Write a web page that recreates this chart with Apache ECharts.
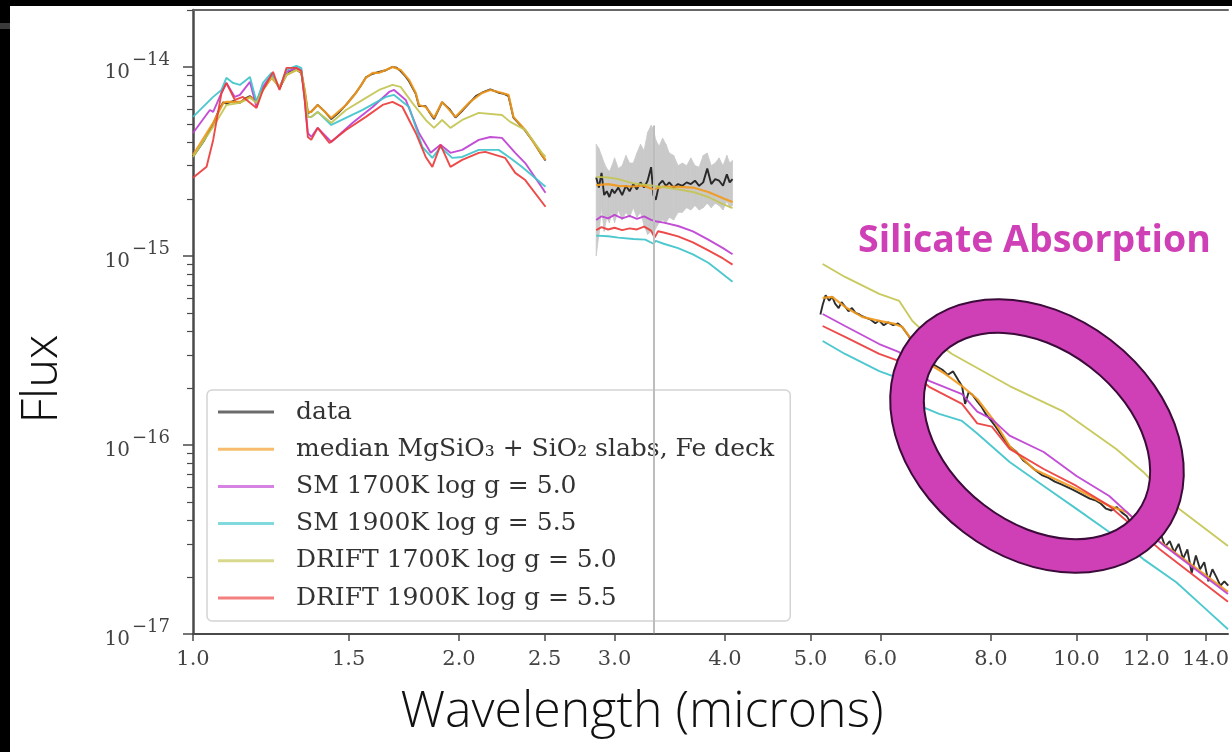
<!DOCTYPE html>
<html><head><meta charset="utf-8">
<script src="https://cdn.jsdelivr.net/npm/echarts@6/dist/echarts.min.js"></script>
<style>html,body{margin:0;padding:0;background:#fff}#c{width:1232px;height:752px}</style>
</head><body><div id="c"></div>
<script>
// flux values below are in units of 1e-15
const FLUX_UNIT = 1e-15;

const xTickValues = [1.0, 1.5, 2.0, 2.5, 3.0, 4.0, 5.0, 6.0, 8.0, 10.0, 12.0, 14.0];
const yMajorValues = [1e-17, 1e-16, 1e-15, 1e-14];
const yMinorMantissas = [2, 3, 4, 5, 6, 7, 8, 9];
const yMinorDecades = [1e-17, 1e-16, 1e-15, 1e-14];

const seriesNames = ['data', 'median MgSiO\u2083 + SiO\u2082 slabs, Fe deck', 'SM 1700K log g = 5.0',
  'SM 1900K log g = 5.5', 'DRIFT 1700K log g = 5.0', 'DRIFT 1900K log g = 5.5'];

// ---- observed spectrum ----
const dataNIR = [[1.0,3.35],[1.03,4.1],[1.054,5.0],[1.07,5.9],[1.082,6.5],[1.091,6.4],[1.11,6.6],[1.13,6.45],[1.145,6.8],[1.16,7.0],[1.18,6.6],[1.20,7.6],[1.227,8.8],[1.24,8.4],[1.253,7.7],[1.276,9.1],[1.29,9.5],[1.309,9.7],[1.326,9.3],[1.338,7.4],[1.349,5.7],[1.361,5.8],[1.384,6.3],[1.41,5.8],[1.434,5.3],[1.46,5.7],[1.49,6.3],[1.51,6.8],[1.529,7.3],[1.55,8.0],[1.569,8.8],[1.597,9.2],[1.624,9.4],[1.653,9.6],[1.682,10.0],[1.70,9.9],[1.718,9.5],[1.74,8.9],[1.756,8.4],[1.787,7.2],[1.802,6.2],[1.834,6.2],[1.85,5.8],[1.874,5.3],[1.914,6.5],[1.95,6.0],[1.982,5.4],[2.02,5.9],[2.052,6.4],[2.09,7.0],[2.124,7.3],[2.17,7.6],[2.218,7.3],[2.25,7.2],[2.276,7.0],[2.305,5.4],[2.34,5.0],[2.377,4.6],[2.43,4.0],[2.483,3.4],[2.506,3.2]];
const dataL = [[2.86,2.6],[2.88,2.3],[2.90,2.75],[2.92,2.1],[2.94,2.2],[2.96,2.05],[2.98,2.25],[3.00,2.15],[3.03,2.3],[3.06,2.1],[3.09,2.35],[3.12,2.2],[3.15,2.4],[3.18,2.25],[3.21,2.45],[3.24,2.3],[3.27,2.5],[3.30,2.95],[3.32,2.1],[3.34,1.98],[3.37,2.4],[3.40,2.5],[3.43,2.35],[3.46,2.45],[3.50,2.3],[3.54,2.4],[3.58,2.35],[3.62,2.45],[3.66,2.4],[3.70,2.5],[3.74,2.35],[3.78,2.45],[3.82,2.9],[3.86,2.4],[3.90,2.55],[3.94,2.5],[3.98,2.35],[4.02,2.7],[4.05,2.45],[4.08,2.55]];
const errLoL = [1.0,1.3,1.8,1.35,1.6,1.5,1.7,1.5,1.75,1.55,1.7,1.6,1.8,1.6,1.7,1.45,1.3,1.35,1.3,1.4,1.5,1.55,1.5,1.6,1.55,1.7,1.7,1.8,1.75,1.85,1.75,1.8,1.9,1.8,1.9,1.85,1.75,1.95,1.8,1.85];
const errHiL = [3.9,3.7,3.4,3.1,2.9,2.8,3.0,3.3,2.9,3.0,3.4,3.1,3.1,3.5,3.9,3.6,4.5,4.9,4.7,4.1,3.8,4.2,3.9,3.5,3.4,3.0,3.1,3.0,3.3,3.0,2.95,3.4,3.5,3.0,3.1,3.3,3.0,3.4,3.1,3.2];
const spikeError = {wave: 3.32, hi: 4.9, lo: 0.0101};
const dataMIR = [[5.13,0.49],[5.16,0.55],[5.20,0.62],[5.25,0.58],[5.29,0.61],[5.33,0.56],[5.38,0.53],[5.42,0.57],[5.47,0.54],[5.52,0.51],[5.57,0.53],[5.62,0.50],[5.68,0.49],[5.72,0.48],[5.78,0.47],[5.85,0.46],[5.92,0.44],[5.98,0.455],[6.05,0.43],[6.12,0.445],[6.20,0.43],[6.28,0.44],[6.35,0.42],[6.45,0.38],[6.55,0.34],[6.65,0.30],[6.75,0.28],[6.85,0.27],[6.95,0.26],[7.05,0.25],[7.15,0.235],[7.25,0.245],[7.35,0.22],[7.42,0.205],[7.48,0.165],[7.55,0.19],[7.62,0.185],[7.72,0.17],[7.80,0.16],[7.90,0.145],[8.00,0.135],[8.10,0.125],[8.25,0.11],[8.40,0.098],[8.55,0.092],[8.70,0.083],[8.85,0.078],[9.00,0.073],[9.15,0.069],[9.30,0.067],[9.45,0.064],[9.60,0.062],[9.75,0.060],[9.90,0.058],[10.05,0.056],[10.2,0.054],[10.35,0.052],[10.5,0.051],[10.65,0.049],[10.8,0.046],[10.95,0.045],[11.1,0.047],[11.25,0.044],[11.4,0.042],[11.55,0.038],[11.7,0.036],[11.85,0.037],[12.0,0.033],[12.15,0.036],[12.3,0.032],[12.45,0.034],[12.6,0.029],[12.75,0.031],[12.9,0.027],[13.05,0.030],[13.2,0.025],[13.35,0.028],[13.5,0.021],[13.65,0.026],[13.8,0.022],[13.95,0.024],[14.1,0.019],[14.25,0.022],[14.4,0.020],[14.55,0.018],[14.7,0.019],[14.85,0.018]];

// ---- median retrieval ----
const medianNIR = [[1.0,3.42],[1.054,5.06],[1.082,6.45],[1.091,6.53],[1.130,6.53],[1.160,6.94],[1.180,6.69],[1.200,7.55],[1.227,8.75],[1.253,7.84],[1.276,9.07],[1.309,9.64],[1.326,9.41],[1.338,7.55],[1.349,5.78],[1.361,5.78],[1.384,6.29],[1.434,5.37],[1.490,6.29],[1.529,7.28],[1.569,8.75],[1.597,9.30],[1.624,9.30],[1.653,9.64],[1.682,10.0],[1.718,9.64],[1.756,8.54],[1.787,7.28],[1.802,6.29],[1.834,6.14],[1.874,5.37],[1.914,6.53],[1.982,5.44],[2.052,6.45],[2.124,7.28],[2.170,7.55],[2.218,7.37],[2.276,7.11],[2.305,5.44],[2.377,4.64],[2.483,3.42],[2.506,3.22]];
const medianL = [[2.86,2.37],[2.95,2.40],[3.03,2.35],[3.15,2.33],[3.23,2.36],[3.32,2.25],[3.41,2.33],[3.54,2.32],[3.68,2.30],[3.83,2.18],[3.98,2.02],[4.08,1.93]];
const medianMIR = [[5.16,0.60],[5.29,0.607],[5.47,0.537],[5.72,0.476],[5.98,0.453],[6.23,0.437],[6.35,0.421],[6.52,0.355],[6.81,0.268],[7.10,0.238],[7.42,0.205],[7.72,0.175],[8.06,0.135],[8.40,0.0988],[8.94,0.0746],[10.0,0.0585],[10.89,0.0476],[11.39,0.0442],[12.31,0.0318],[13.55,0.0229],[14.84,0.0167]];

// ---- SM 1700K log g = 5.0 ----
const sm1700NIR = [[1.0,4.47],[1.045,5.92],[1.054,5.78],[1.077,7.28],[1.091,8.23],[1.115,6.94],[1.130,7.11],[1.160,8.33],[1.180,6.14],[1.200,7.84],[1.227,9.07],[1.253,7.74],[1.276,9.41],[1.309,9.88],[1.326,9.64],[1.338,6.69],[1.349,4.47],[1.361,4.26],[1.384,4.76],[1.434,4.01],[1.516,5.06],[1.597,6.14],[1.667,7.37],[1.689,7.55],[1.741,6.69],[1.802,4.47],[1.858,3.51],[1.906,3.87],[1.956,3.51],[2.017,3.64],[2.106,4.11],[2.170,4.26],[2.237,4.21],[2.316,3.51],[2.377,3.10],[2.506,2.16]];
const sm1700L = [[2.86,1.55],[2.90,1.62],[2.95,1.58],[3.00,1.65],[3.06,1.58],[3.12,1.63],[3.18,1.57],[3.24,1.62],[3.30,1.55],[3.35,1.52],[3.41,1.50],[3.54,1.44],[3.68,1.35],[3.83,1.22],[3.98,1.10],[4.08,1.02]];
const sm1700MIR = [[5.16,0.493],[5.47,0.426],[5.98,0.342],[6.30,0.310],[6.81,0.218],[7.42,0.186],[7.72,0.150],[8.02,0.137],[8.40,0.112],[9.18,0.0918],[10.0,0.0685],[10.89,0.0537],[12.41,0.0307],[14.84,0.0163]];

// ---- SM 1900K log g = 5.5 ----
const sm1900NIR = [[1.0,5.44],[1.054,6.94],[1.077,7.55],[1.091,8.75],[1.110,8.23],[1.130,8.03],[1.160,8.85],[1.180,6.53],[1.200,8.23],[1.227,9.30],[1.253,7.74],[1.276,9.64],[1.309,10.12],[1.326,9.88],[1.338,6.94],[1.349,5.44],[1.361,5.44],[1.384,5.78],[1.434,4.93],[1.556,5.92],[1.653,6.94],[1.689,7.11],[1.756,6.14],[1.818,3.77],[1.866,3.30],[1.906,3.77],[1.965,3.30],[2.017,3.34],[2.106,3.64],[2.218,3.64],[2.286,3.30],[2.356,2.96],[2.506,2.32]];
const sm1900L = [[2.86,1.28],[2.95,1.27],[3.03,1.25],[3.15,1.23],[3.25,1.22],[3.32,1.16],[3.34,1.20],[3.41,1.16],[3.54,1.10],[3.68,1.02],[3.83,0.92],[3.98,0.80],[4.08,0.73]];
const sm1900MIR = [[5.16,0.355],[5.47,0.303],[5.98,0.246],[6.23,0.229],[6.69,0.159],[6.99,0.146],[7.42,0.134],[7.72,0.115],[8.40,0.0813],[9.18,0.0607],[10.0,0.0459],[10.89,0.0346],[11.90,0.0249],[12.97,0.0188],[14.12,0.0131],[14.84,0.0106]];

// ---- DRIFT 1700K log g = 5.0 ----
const drift1700NIR = [[1.0,3.34],[1.054,4.82],[1.091,6.29],[1.130,6.45],[1.160,6.86],[1.180,6.45],[1.200,7.55],[1.227,8.85],[1.253,7.84],[1.276,9.07],[1.309,9.64],[1.326,9.41],[1.338,7.28],[1.349,5.44],[1.361,5.44],[1.384,5.78],[1.434,5.06],[1.490,5.92],[1.556,6.69],[1.624,7.55],[1.682,8.03],[1.718,7.84],[1.771,6.45],[1.834,5.24],[1.874,4.76],[1.914,5.24],[1.956,4.76],[2.017,5.24],[2.106,5.71],[2.237,5.57],[2.286,5.12],[2.377,4.64],[2.483,3.51],[2.506,3.34]];
const drift1700L = [[2.86,2.62],[2.95,2.60],[3.03,2.55],[3.15,2.42],[3.32,2.35],[3.54,2.25],[3.68,2.18],[3.83,2.05],[3.98,1.88],[4.08,1.79]];
const drift1700MIR = [[5.16,0.907],[5.47,0.774],[5.98,0.630],[6.30,0.578],[6.52,0.453],[6.81,0.373],[7.23,0.303],[8.40,0.205],[9.67,0.150],[11.09,0.0953],[11.90,0.072],[13.07,0.0459],[14.84,0.0292]];

// ---- DRIFT 1900K log g = 5.5 ----
const drift1900NIR = [[1.0,2.59],[1.036,2.96],[1.054,4.11],[1.077,7.28],[1.091,8.23],[1.115,6.69],[1.139,6.94],[1.180,6.07],[1.200,7.55],[1.232,9.41],[1.253,7.55],[1.276,9.88],[1.309,9.88],[1.326,9.52],[1.338,6.69],[1.349,4.26],[1.361,4.11],[1.384,4.76],[1.427,3.96],[1.490,4.64],[1.569,5.44],[1.639,6.29],[1.682,6.53],[1.726,6.14],[1.787,4.47],[1.834,3.34],[1.866,2.96],[1.906,3.87],[1.956,2.96],[2.017,3.22],[2.106,3.51],[2.142,3.55],[2.256,3.30],[2.316,2.75],[2.377,2.52],[2.506,1.82]];
const drift1900L = [[2.86,1.37],[2.90,1.42],[2.95,1.38],[3.00,1.41],[3.06,1.37],[3.12,1.40],[3.18,1.38],[3.24,1.43],[3.30,1.36],[3.33,1.25],[3.36,1.35],[3.41,1.33],[3.54,1.27],[3.68,1.18],[3.83,1.07],[3.98,0.97],[4.08,0.90]];
const drift1900MIR = [[5.16,0.426],[5.47,0.373],[5.98,0.303],[6.30,0.278],[6.81,0.203],[7.42,0.165],[7.72,0.130],[8.02,0.125],[8.40,0.0953],[9.18,0.0746],[10.0,0.0607],[10.89,0.0476],[12.41,0.0282],[14.84,0.0148]];

const colors = ['#1b1b1b', '#F29A1E', '#BE3FD2', '#3EC3CB', '#C3C552', '#EC3B3B'];

function joinSegments(segs) {
  const out = [];
  segs.forEach((seg, i) => {
    if (i > 0) out.push([(segs[i - 1][segs[i - 1].length - 1][0] + seg[0][0]) / 2, '-']);
    seg.forEach(p => out.push([p[0], p[1] * FLUX_UNIT]));
  });
  return out;
}

const bandItems = dataL.slice(0, -1).map((p, i) => [
  p[0], errLoL[i] * FLUX_UNIT, errHiL[i] * FLUX_UNIT,
  dataL[i + 1][0], errLoL[i + 1] * FLUX_UNIT, errHiL[i + 1] * FLUX_UNIT]);

const yMinorValues = [];
yMinorDecades.forEach(d => yMinorMantissas.forEach(m => { if (m * d <= 2e-14) yMinorValues.push(m * d); }));

const lineSeries = (name, segs, color, width, z) => ({
  type: 'line', name, data: joinSegments(segs), showSymbol: false, symbol: 'none',
  connectNulls: false, z, lineStyle: {color, width, opacity: 0.92}, itemStyle: {color},
  emphasis: {disabled: true}, animation: false
});

const chart = echarts.init(document.getElementById('c'), null, {renderer: 'canvas'});
const axisColor = '#4a4a4a';
const serif = 'DejaVu Serif';

chart.setOption({
  animation: false,
  backgroundColor: '#fff',
  grid: {left: 193, right: 0, top: 10, bottom: 118},
  xAxis: [{
    type: 'log', logBase: 10, min: 1.0, max: 14.84,
    axisLine: {show: true, onZero: false, lineStyle: {color: axisColor, width: 2}},
    axisTick: {show: true, customValues: xTickValues, length: 7, lineStyle: {color: axisColor, width: 1.5}},
    axisLabel: {show: true, customValues: xTickValues, formatter: v => Number(v).toFixed(1), margin: 15,
      fontFamily: serif, fontSize: 21, color: '#444'},
    splitLine: {show: false}, minorTick: {show: false}
  }, {
    type: 'log', logBase: 10, min: 1.0, max: 14.84, position: 'top',
    axisLine: {show: true, onZero: false, lineStyle: {color: '#666', width: 2}},
    axisTick: {show: false}, axisLabel: {show: false}, splitLine: {show: false}
  }],
  yAxis: [{
    type: 'log', logBase: 10, min: 1e-17, max: 2e-14,
    axisLine: {show: true, onZero: false, lineStyle: {color: axisColor, width: 2.5}},
    axisTick: {show: true, customValues: yMajorValues, length: 10, lineStyle: {color: axisColor, width: 1.5}},
    axisLabel: {show: true, customValues: yMajorValues, margin: 23,
      formatter: v => '{b|10}{s|\u2212' + Math.round(-Math.log10(v)) + '}',
      rich: {
        b: {fontFamily: serif, fontSize: 20, color: '#444', lineHeight: 32, verticalAlign: 'bottom', padding: [0, 2, 0, 0]},
        s: {fontFamily: serif, fontSize: 18, color: '#444', lineHeight: 20, verticalAlign: 'top'}
      }},
    splitLine: {show: false}
  }, {
    type: 'log', logBase: 10, min: 1e-17, max: 2e-14, position: 'left',
    axisLine: {show: false},
    axisTick: {show: true, customValues: yMinorValues, length: 6, lineStyle: {color: axisColor, width: 1.2}},
    axisLabel: {show: false}, splitLine: {show: false}
  }],
  legend: {
    data: seriesNames, orient: 'vertical', left: 207, top: 390,
    padding: [9, 16, 10, 11], itemGap: 11.2, itemWidth: 56, itemHeight: 3, icon: 'rect',
    selectedMode: false, backgroundColor: 'rgba(255,255,255,0.82)', borderColor: '#d4d4d4',
    borderWidth: 1.5, borderRadius: 5, itemStyle: {opacity: 0.65},
    textStyle: {fontFamily: serif, fontSize: 25, color: '#333', lineHeight: 26, padding: [0, 0, 0, 17]}
  },
  series: [
    {
      type: 'custom', name: 'uncertainty', silent: true, z: 1, clip: true,
      renderItem: (params, api) => {
        const a = api.coord([api.value(0), api.value(2)]);
        const b = api.coord([api.value(3), api.value(5)]);
        const c = api.coord([api.value(3), api.value(4)]);
        const d = api.coord([api.value(0), api.value(1)]);
        return {type: 'polygon', shape: {points: [a, b, c, d]},
          style: {fill: '#c9c9c9', stroke: '#c9c9c9', lineWidth: 0.8}};
      },
      encode: {x: [0, 3], y: [1, 2, 4, 5]},
      data: bandItems
    },
    Object.assign(lineSeries(seriesNames[0], [dataNIR, dataL, dataMIR], colors[0], 1.9, 3), {
      markLine: {silent: true, symbol: 'none', animation: false, label: {show: false},
        lineStyle: {color: '#bdbdbd', width: 2, type: 'solid', opacity: 1},
        data: [[{coord: [spikeError.wave, spikeError.hi * FLUX_UNIT]}, {coord: [spikeError.wave, spikeError.lo * FLUX_UNIT]}]]}
    }),
    lineSeries(seriesNames[1], [medianNIR, medianL, medianMIR], colors[1], 2.2, 4),
    lineSeries(seriesNames[2], [sm1700NIR, sm1700L, sm1700MIR], colors[2], 1.9, 4),
    lineSeries(seriesNames[3], [sm1900NIR, sm1900L, sm1900MIR], colors[3], 1.9, 4),
    lineSeries(seriesNames[4], [drift1700NIR, drift1700L, drift1700MIR], colors[4], 1.9, 4),
    lineSeries(seriesNames[5], [drift1900NIR, drift1900L, drift1900MIR], colors[5], 1.9, 4)
  ],
  graphic: [
    {type: 'text', z: 50, x: 642, y: 713, style: {text: 'Wavelength (microns)', fill: '#111',
      font: '300 50px "Open Sans"', align: 'center', verticalAlign: 'middle', textAlign: 'center', textVerticalAlign: 'middle'}},
    {type: 'text', z: 50, x: 43, y: 379, rotation: Math.PI / 2, style: {text: 'Flux', fill: '#111',
      font: '300 49px "Open Sans"', align: 'center', verticalAlign: 'middle', textAlign: 'center', textVerticalAlign: 'middle'}},
    {type: 'text', z: 50, x: 858, y: 241, style: {text: 'Silicate Absorption', fill: '#CF3FB6',
      font: 'bold 37.5px "Open Sans"', align: 'left', verticalAlign: 'middle', textAlign: 'left', textVerticalAlign: 'middle'}},
    {type: 'group', x: 1037, y: 436, rotation: -0.654, z: 40, children: [
      {type: 'ellipse', shape: {cx: 0, cy: 0, rx: 143, ry: 104}, style: {fill: 'none', stroke: '#CF3FB6', lineWidth: 34}, z: 40},
      {type: 'ellipse', shape: {cx: 0, cy: 0, rx: 160, ry: 121}, style: {fill: 'none', stroke: '#3b0b3a', lineWidth: 2}, z: 41},
      {type: 'ellipse', shape: {cx: 0, cy: 0, rx: 126, ry: 87}, style: {fill: 'none', stroke: '#3b0b3a', lineWidth: 2}, z: 41}
    ]},
    {type: 'rect', z: 100, shape: {x: 0, y: 0, width: 1232, height: 6}, style: {fill: '#000'}},
    {type: 'rect', z: 100, shape: {x: 0, y: 0, width: 10, height: 752}, style: {fill: '#000'}},
    {type: 'rect', z: 101, shape: {x: 0, y: 23, width: 10, height: 6}, style: {fill: '#3a3a3a'}}
  ]
});
</script>
</body></html>
